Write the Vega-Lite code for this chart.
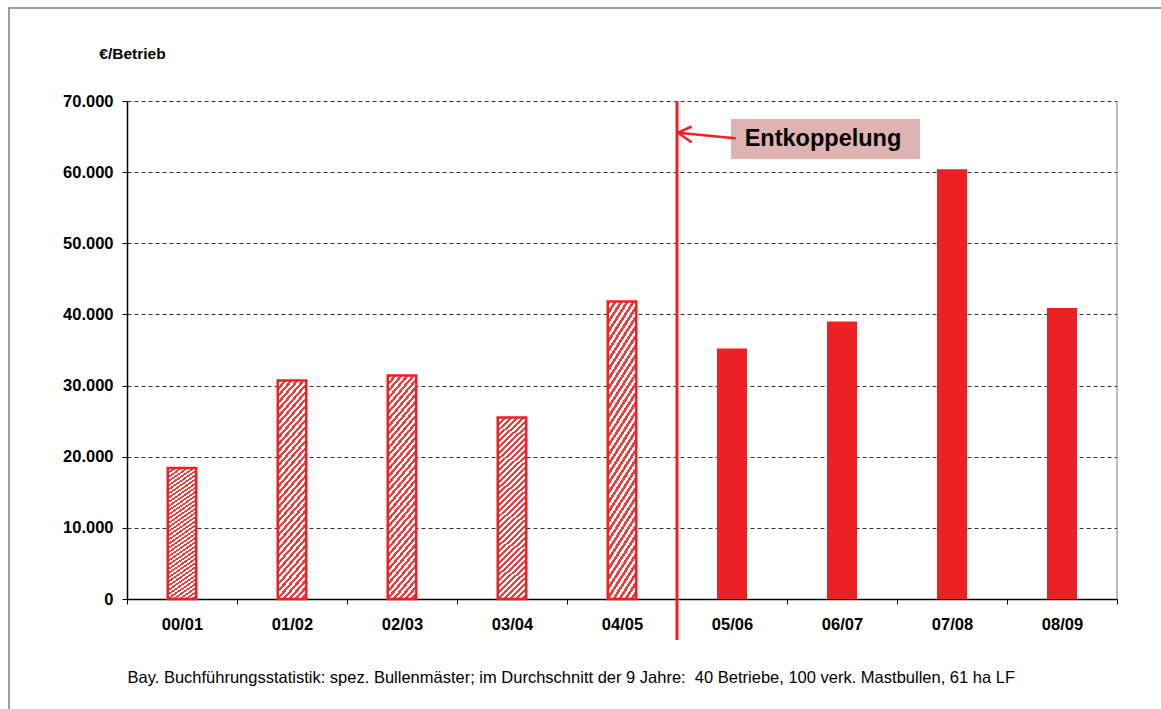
{
  "$schema": "https://vega.github.io/schema/vega-lite/v6.json",
  "width": 990,
  "height": 498,
  "autosize": "none",
  "padding": {"left": 127, "top": 101, "right": 44, "bottom": 110},
  "background": "white",
  "config": {"view": {"stroke": null}, "font": "Liberation Sans"},
  "layer": [
    {
      "data": {"values": [
        {"yr": "00/01", "val": 18400, "phase": "vor"},
        {"yr": "01/02", "val": 30700, "phase": "vor"},
        {"yr": "02/03", "val": 31400, "phase": "vor"},
        {"yr": "03/04", "val": 25500, "phase": "vor"},
        {"yr": "04/05", "val": 41800, "phase": "vor"},
        {"yr": "05/06", "val": 35200, "phase": "nach"},
        {"yr": "06/07", "val": 39000, "phase": "nach"},
        {"yr": "07/08", "val": 60400, "phase": "nach"},
        {"yr": "08/09", "val": 40900, "phase": "nach"}
      ]},
      "encoding": {
        "x": {"field": "yr", "type": "nominal", "sort": null,
          "scale": {"paddingInner": 0, "paddingOuter": 0},
          "axis": {"title": "Bay. Buchführungsstatistik: spez. Bullenmäster; im Durchschnitt der 9 Jahre:\u00a0 40 Betriebe, 100 verk. Mastbullen, 61 ha LF",
            "titleFont": "Liberation Sans", "titleFontSize": 16.5, "titleFontWeight": "normal", "titleColor": "black",
            "titleAnchor": "start", "titleAlign": "left", "titleX": 0, "titleY": 83, "titleBaseline": "alphabetic",
            "labelAngle": 0, "labelFont": "Liberation Sans", "labelFontSize": 16.5, "labelFontWeight": "bold", "labelColor": "black",
            "labelPadding": 12, "tickBand": "extent", "tickSize": 5, "tickColor": "black", "domainColor": "black", "domainWidth": 1.5, "grid": false}},
        "y": {"field": "val", "type": "quantitative",
          "scale": {"domain": [0, 70000], "nice": false},
          "axis": {"title": "€/Betrieb", "titleAngle": 0, "titleAlign": "center", "titleBaseline": "alphabetic",
            "titleX": 5, "titleY": -43, "titleFont": "Liberation Sans", "titleFontSize": 15.5, "titleFontWeight": "bold", "titleColor": "black",
            "values": [0, 10000, 20000, 30000, 40000, 50000, 60000, 70000],
            "labelExpr": "replace(format(datum.value, ','), ',', '.')",
            "labelFont": "Liberation Sans", "labelFontSize": 16.5, "labelFontWeight": "bold", "labelColor": "black", "labelPadding": 9,
            "tickSize": 5, "tickColor": "black", "domainColor": "black", "domainWidth": 1.5,
            "grid": true, "gridColor": "#333333", "gridDash": [4, 3], "gridWidth": 1}}
      },
      "layer": [
        {
          "transform": [{"filter": "datum.phase === 'vor'"}],
          "mark": {"type": "bar", "width": 28.5, "stroke": "#ed2024", "strokeWidth": 2.5,
            "fill": {"gradient": "linear", "x1": 0, "y1": 0, "x2": 0.169, "y2": 1.125, "stops": [
              {"offset": 0, "color": "#f03c3c"}, {"offset": 0.0139, "color": "#f03c3c"},
              {"offset": 0.0139, "color": "#fff"}, {"offset": 0.0278, "color": "#fff"},
              {"offset": 0.0278, "color": "#f03c3c"}, {"offset": 0.0417, "color": "#f03c3c"},
              {"offset": 0.0417, "color": "#fff"}, {"offset": 0.0556, "color": "#fff"},
              {"offset": 0.0556, "color": "#f03c3c"}, {"offset": 0.0694, "color": "#f03c3c"},
              {"offset": 0.0694, "color": "#fff"}, {"offset": 0.0833, "color": "#fff"},
              {"offset": 0.0833, "color": "#f03c3c"}, {"offset": 0.0972, "color": "#f03c3c"},
              {"offset": 0.0972, "color": "#fff"}, {"offset": 0.1111, "color": "#fff"},
              {"offset": 0.1111, "color": "#f03c3c"}, {"offset": 0.125, "color": "#f03c3c"},
              {"offset": 0.125, "color": "#fff"}, {"offset": 0.1389, "color": "#fff"},
              {"offset": 0.1389, "color": "#f03c3c"}, {"offset": 0.1528, "color": "#f03c3c"},
              {"offset": 0.1528, "color": "#fff"}, {"offset": 0.1667, "color": "#fff"},
              {"offset": 0.1667, "color": "#f03c3c"}, {"offset": 0.1806, "color": "#f03c3c"},
              {"offset": 0.1806, "color": "#fff"}, {"offset": 0.1944, "color": "#fff"},
              {"offset": 0.1944, "color": "#f03c3c"}, {"offset": 0.2083, "color": "#f03c3c"},
              {"offset": 0.2083, "color": "#fff"}, {"offset": 0.2222, "color": "#fff"},
              {"offset": 0.2222, "color": "#f03c3c"}, {"offset": 0.2361, "color": "#f03c3c"},
              {"offset": 0.2361, "color": "#fff"}, {"offset": 0.25, "color": "#fff"},
              {"offset": 0.25, "color": "#f03c3c"}, {"offset": 0.2639, "color": "#f03c3c"},
              {"offset": 0.2639, "color": "#fff"}, {"offset": 0.2778, "color": "#fff"},
              {"offset": 0.2778, "color": "#f03c3c"}, {"offset": 0.2917, "color": "#f03c3c"},
              {"offset": 0.2917, "color": "#fff"}, {"offset": 0.3056, "color": "#fff"},
              {"offset": 0.3056, "color": "#f03c3c"}, {"offset": 0.3194, "color": "#f03c3c"},
              {"offset": 0.3194, "color": "#fff"}, {"offset": 0.3333, "color": "#fff"},
              {"offset": 0.3333, "color": "#f03c3c"}, {"offset": 0.3472, "color": "#f03c3c"},
              {"offset": 0.3472, "color": "#fff"}, {"offset": 0.3611, "color": "#fff"},
              {"offset": 0.3611, "color": "#f03c3c"}, {"offset": 0.375, "color": "#f03c3c"},
              {"offset": 0.375, "color": "#fff"}, {"offset": 0.3889, "color": "#fff"},
              {"offset": 0.3889, "color": "#f03c3c"}, {"offset": 0.4028, "color": "#f03c3c"},
              {"offset": 0.4028, "color": "#fff"}, {"offset": 0.4167, "color": "#fff"},
              {"offset": 0.4167, "color": "#f03c3c"}, {"offset": 0.4306, "color": "#f03c3c"},
              {"offset": 0.4306, "color": "#fff"}, {"offset": 0.4444, "color": "#fff"},
              {"offset": 0.4444, "color": "#f03c3c"}, {"offset": 0.4583, "color": "#f03c3c"},
              {"offset": 0.4583, "color": "#fff"}, {"offset": 0.4722, "color": "#fff"},
              {"offset": 0.4722, "color": "#f03c3c"}, {"offset": 0.4861, "color": "#f03c3c"},
              {"offset": 0.4861, "color": "#fff"}, {"offset": 0.5, "color": "#fff"},
              {"offset": 0.5, "color": "#f03c3c"}, {"offset": 0.5139, "color": "#f03c3c"},
              {"offset": 0.5139, "color": "#fff"}, {"offset": 0.5278, "color": "#fff"},
              {"offset": 0.5278, "color": "#f03c3c"}, {"offset": 0.5417, "color": "#f03c3c"},
              {"offset": 0.5417, "color": "#fff"}, {"offset": 0.5556, "color": "#fff"},
              {"offset": 0.5556, "color": "#f03c3c"}, {"offset": 0.5694, "color": "#f03c3c"},
              {"offset": 0.5694, "color": "#fff"}, {"offset": 0.5833, "color": "#fff"},
              {"offset": 0.5833, "color": "#f03c3c"}, {"offset": 0.5972, "color": "#f03c3c"},
              {"offset": 0.5972, "color": "#fff"}, {"offset": 0.6111, "color": "#fff"},
              {"offset": 0.6111, "color": "#f03c3c"}, {"offset": 0.625, "color": "#f03c3c"},
              {"offset": 0.625, "color": "#fff"}, {"offset": 0.6389, "color": "#fff"},
              {"offset": 0.6389, "color": "#f03c3c"}, {"offset": 0.6528, "color": "#f03c3c"},
              {"offset": 0.6528, "color": "#fff"}, {"offset": 0.6667, "color": "#fff"},
              {"offset": 0.6667, "color": "#f03c3c"}, {"offset": 0.6806, "color": "#f03c3c"},
              {"offset": 0.6806, "color": "#fff"}, {"offset": 0.6944, "color": "#fff"},
              {"offset": 0.6944, "color": "#f03c3c"}, {"offset": 0.7083, "color": "#f03c3c"},
              {"offset": 0.7083, "color": "#fff"}, {"offset": 0.7222, "color": "#fff"},
              {"offset": 0.7222, "color": "#f03c3c"}, {"offset": 0.7361, "color": "#f03c3c"},
              {"offset": 0.7361, "color": "#fff"}, {"offset": 0.75, "color": "#fff"},
              {"offset": 0.75, "color": "#f03c3c"}, {"offset": 0.7639, "color": "#f03c3c"},
              {"offset": 0.7639, "color": "#fff"}, {"offset": 0.7778, "color": "#fff"},
              {"offset": 0.7778, "color": "#f03c3c"}, {"offset": 0.7917, "color": "#f03c3c"},
              {"offset": 0.7917, "color": "#fff"}, {"offset": 0.8056, "color": "#fff"},
              {"offset": 0.8056, "color": "#f03c3c"}, {"offset": 0.8194, "color": "#f03c3c"},
              {"offset": 0.8194, "color": "#fff"}, {"offset": 0.8333, "color": "#fff"},
              {"offset": 0.8333, "color": "#f03c3c"}, {"offset": 0.8472, "color": "#f03c3c"},
              {"offset": 0.8472, "color": "#fff"}, {"offset": 0.8611, "color": "#fff"},
              {"offset": 0.8611, "color": "#f03c3c"}, {"offset": 0.875, "color": "#f03c3c"},
              {"offset": 0.875, "color": "#fff"}, {"offset": 0.8889, "color": "#fff"},
              {"offset": 0.8889, "color": "#f03c3c"}, {"offset": 0.9028, "color": "#f03c3c"},
              {"offset": 0.9028, "color": "#fff"}, {"offset": 0.9167, "color": "#fff"},
              {"offset": 0.9167, "color": "#f03c3c"}, {"offset": 0.9306, "color": "#f03c3c"},
              {"offset": 0.9306, "color": "#fff"}, {"offset": 0.9444, "color": "#fff"},
              {"offset": 0.9444, "color": "#f03c3c"}, {"offset": 0.9583, "color": "#f03c3c"},
              {"offset": 0.9583, "color": "#fff"}, {"offset": 0.9722, "color": "#fff"},
              {"offset": 0.9722, "color": "#f03c3c"}, {"offset": 0.9861, "color": "#f03c3c"},
              {"offset": 0.9861, "color": "#fff"}, {"offset": 1, "color": "#fff"}
            ]}}
        },
        {
          "transform": [{"filter": "datum.phase === 'nach'"}],
          "mark": {"type": "bar", "width": 30, "fill": "#ed2024", "stroke": null}
        }
      ]
    },
    {
      "data": {"values": [{"label": "Entkoppelung"}]},
      "layer": [
        {
          "mark": {"type": "rect", "fillOpacity": 0, "stroke": "#7f7f7f", "strokeWidth": 1.5, "clip": false},
          "encoding": {
            "x": {"datum": -1.0727, "type": "quantitative", "scale": {"domain": [0, 9], "nice": false, "zero": false}, "axis": null},
            "x2": {"datum": 9.6},
            "y": {"datum": 83072, "type": "quantitative", "scale": {"domain": [0, 70000], "nice": false}, "axis": null},
            "y2": {"datum": -17000}
          }
        },
        {
          "mark": {"type": "rule", "stroke": "#7f7f7f", "strokeWidth": 1},
          "encoding": {
            "x": {"datum": 9, "type": "quantitative", "scale": {"domain": [0, 9], "nice": false, "zero": false}, "axis": null},
            "y": {"datum": 0, "type": "quantitative", "scale": {"domain": [0, 70000], "nice": false}, "axis": null},
            "y2": {"datum": 70000}
          }
        },
        {
          "mark": {"type": "rule", "stroke": "#ed2024", "strokeWidth": 3},
          "encoding": {
            "x": {"datum": 5, "type": "quantitative", "scale": {"domain": [0, 9], "nice": false, "zero": false}, "axis": null},
            "y": {"datum": 70000, "type": "quantitative", "scale": {"domain": [0, 70000], "nice": false}, "axis": null},
            "y2": {"datum": -5763}
          }
        },
        {
          "mark": {"type": "rect", "fill": "#e0b3b3"},
          "encoding": {
            "x": {"datum": 5.491, "type": "quantitative", "scale": {"domain": [0, 9], "nice": false, "zero": false}, "axis": null},
            "x2": {"datum": 7.209},
            "y": {"datum": 67469, "type": "quantitative", "scale": {"domain": [0, 70000], "nice": false}, "axis": null},
            "y2": {"datum": 61846}
          }
        },
        {
          "mark": {"type": "text", "font": "Liberation Sans", "fontSize": 23.5, "fontWeight": "bold", "color": "black", "align": "center", "baseline": "middle"},
          "encoding": {
            "x": {"datum": 6.327, "type": "quantitative", "scale": {"domain": [0, 9], "nice": false, "zero": false}, "axis": null},
            "y": {"datum": 64658, "type": "quantitative", "scale": {"domain": [0, 70000], "nice": false}, "axis": null},
            "text": {"field": "label"}
          }
        },
        {
          "mark": {"type": "rule", "stroke": "#ed2024", "strokeWidth": 2.5, "strokeCap": "round"},
          "encoding": {
            "x": {"datum": 5.527, "type": "quantitative", "scale": {"domain": [0, 9], "nice": false, "zero": false}, "axis": null},
            "x2": {"datum": 5.009},
            "y": {"datum": 64757, "type": "quantitative", "scale": {"domain": [0, 70000], "nice": false}, "axis": null},
            "y2": {"datum": 65544}
          }
        },
        {
          "mark": {"type": "rule", "stroke": "#ed2024", "strokeWidth": 2.5, "strokeCap": "round"},
          "encoding": {
            "x": {"datum": 5.009, "type": "quantitative", "scale": {"domain": [0, 9], "nice": false, "zero": false}, "axis": null},
            "x2": {"datum": 5.125},
            "y": {"datum": 65544, "type": "quantitative", "scale": {"domain": [0, 70000], "nice": false}, "axis": null},
            "y2": {"datum": 66345}
          }
        },
        {
          "mark": {"type": "rule", "stroke": "#ed2024", "strokeWidth": 2.5, "strokeCap": "round"},
          "encoding": {
            "x": {"datum": 5.009, "type": "quantitative", "scale": {"domain": [0, 9], "nice": false, "zero": false}, "axis": null},
            "x2": {"datum": 5.125},
            "y": {"datum": 65544, "type": "quantitative", "scale": {"domain": [0, 70000], "nice": false}, "axis": null},
            "y2": {"datum": 64279}
          }
        }
      ]
    }
  ],
  "resolve": {"scale": {"x": "independent", "y": "independent"}, "axis": {"x": "independent", "y": "independent"}}
}
